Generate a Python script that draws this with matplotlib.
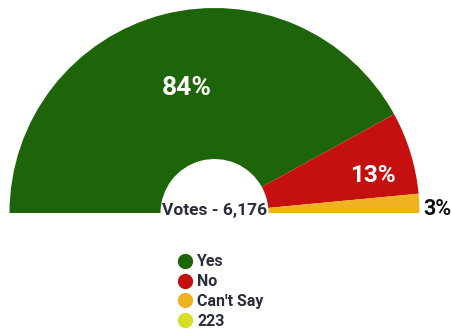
import matplotlib
matplotlib.use("Agg")
import matplotlib.pyplot as plt
from matplotlib.lines import Line2D

# poll results
labels = ["Yes", "No", "Can't Say", "223"]
shares = [84, 13, 3, 0]
colors = ["#1e6409", "#c41110", "#f0b21e", "#d6de24"]
total_votes = "6,176"

FONT = ["Roboto", "DejaVu Sans"]

fig = plt.figure(figsize=(4.51, 3.33), dpi=100)
ax = fig.add_axes([0, 0, 1, 1])

# half donut: the real slices fill the top half, a hidden slice fills the bottom
cx, cy, r_out, r_in = 214.5, 120, 205, 54
vals = shares[:3] + [sum(shares)]
wedges, _ = ax.pie(vals, colors=colors[:3] + ["none"], startangle=180,
                   counterclock=False, center=(cx, cy), radius=r_out,
                   frame=True, wedgeprops=dict(width=r_out - r_in, linewidth=0))
wedges[-1].set_visible(False)

ax.set_xlim(0, 451)
ax.set_ylim(0, 333)
ax.set_aspect("equal")
ax.axis("off")

# percentage labels
ax.text(187, 333 - 88, f"{shares[0]}%", color="white", fontsize=19,
        fontweight="bold", family=FONT, ha="center", va="center")
ax.text(373, 333 - 175, f"{shares[1]}%", color="white", fontsize=17.5,
        fontweight="bold", family=FONT, ha="center", va="center")
ax.text(437, 333 - 209, f"{shares[2]}%", color="#111111", fontsize=15.5,
        fontweight="bold", family=FONT, ha="center", va="center")

ax.text(cx, 333 - 210, f"Votes - {total_votes}", color="#2a2d3a", fontsize=12.5,
        fontweight="bold", family=FONT, ha="center", va="center")

handles = [Line2D([], [], marker="o", linestyle="none", markersize=10,
                  markerfacecolor=c, markeredgecolor=c) for c in colors]
leg = ax.legend(handles, labels, loc="upper left", bbox_to_anchor=(171 / 451, 1 - 248 / 333),
                frameon=False, handletextpad=0.25, labelspacing=0.3,
                borderaxespad=0, handlelength=1.0,
                prop=dict(family=FONT, weight="bold", size=11.5))
for t in leg.get_texts():
    t.set_color("#2a2d3a")

fig.savefig("out.png", dpi=100)
